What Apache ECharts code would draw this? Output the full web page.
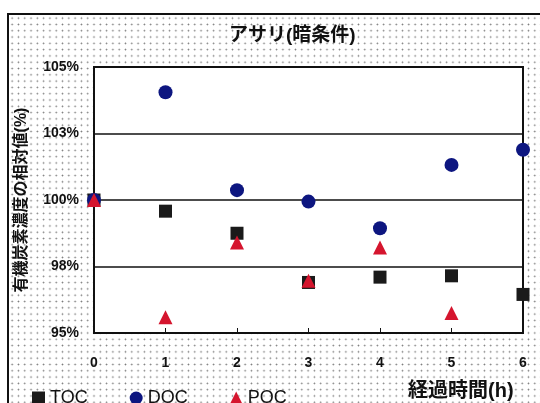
<!DOCTYPE html>
<html>
<head>
<meta charset="utf-8">
<script src="https://cdn.jsdelivr.net/npm/echarts@6/dist/echarts.min.js"></script>
<style>
html,body{margin:0;padding:0;background:#fff;}
#frame{position:absolute;left:7px;top:13px;width:540px;height:400px;border-left:2px solid #111;border-top:2px solid #111;
background-color:#fff;background-image:radial-gradient(circle,#777 0.6px,rgba(255,255,255,0) 1.1px);background-size:6.3px 6.3px;}
#chart{position:absolute;left:0;top:0;width:540px;height:403px;}
</style>
</head>
<body>
<div id="frame"></div>
<div id="chart"></div>
<script>
var titleText = 'アサリ(暗条件)';
var yAxisTitle = '有機炭素濃度の相対値(%)';
var xAxisTitle = '経過時間(h)';
var hours = [0, 1, 2, 3, 4, 5, 6];
var yTickValues = [95, 97.5, 100, 102.5, 105];
var yTickLabels = ['95%', '98%', '100%', '103%', '105%'];
var seriesNames = ['TOC', 'DOC', 'POC'];
var tocValues = [100, 99.58, 98.75, 96.9, 97.1, 97.15, 96.45];
var docValues = [100, 104.05, 100.37, 99.94, 98.94, 101.32, 101.89];
var pocValues = [100, 95.59, 98.4, 96.96, 98.21, 95.75, null];

function pairs(vals) {
  var out = [];
  for (var i = 0; i < hours.length; i++) {
    if (vals[i] !== null) out.push([hours[i], vals[i]]);
  }
  return out;
}

var chart = echarts.init(document.getElementById('chart'), null, {renderer: 'canvas'});
var font = '"Liberation Sans", Arial, "Noto Sans CJK JP", sans-serif';
chart.setOption({
  backgroundColor: 'transparent',
  animation: false,
  textStyle: {fontFamily: font},
  title: {
    text: titleText, left: 224, top: 21,
    textStyle: {fontSize: 19, fontWeight: 'bold', color: '#111', fontFamily: font}
  },
  grid: {left: 94, right: 17, top: 67, bottom: 70, show: true, borderColor: '#111', borderWidth: 2, backgroundColor: '#fff'},
  legend: {
    left: 27, top: 384, itemWidth: 13, itemHeight: 13, itemGap: 42,
    textStyle: {fontSize: 18, color: '#111', fontFamily: font},
    data: [
      {name: seriesNames[0], icon: 'rect'},
      {name: seriesNames[1], icon: 'circle'},
      {name: seriesNames[2], icon: 'triangle'}
    ]
  },
  xAxis: {
    type: 'value', min: 0, max: 6, interval: 1,
    axisLine: {show: false},
    axisTick: {show: true, inside: true, length: 5, lineStyle: {color: '#111', width: 1}},
    splitLine: {show: false},
    axisLabel: {margin: 23, fontSize: 14, fontWeight: 'bold', color: '#111'}
  },
  yAxis: {
    type: 'value', min: 95, max: 105, interval: 2.5,
    name: yAxisTitle, nameLocation: 'middle', nameGap: 64, nameRotate: 90,
    nameTextStyle: {fontSize: 16, fontWeight: 'bold', color: '#111', fontFamily: font},
    axisLine: {show: false},
    axisTick: {show: false},
    splitLine: {show: true, lineStyle: {color: '#111', width: 1.5}},
    axisLabel: {
      margin: 15, fontSize: 14, fontWeight: 'bold', color: '#111',
      formatter: function (v) {
        var i = yTickValues.indexOf(v);
        return i >= 0 ? yTickLabels[i] : '';
      }
    }
  },
  graphic: [{
    type: 'text', left: 408, top: 381,
    style: {text: xAxisTitle, fontSize: 20, fontWeight: 'bold', fill: '#111', fontFamily: font}
  }],
  series: [
    {name: seriesNames[0], type: 'scatter', symbol: 'rect', symbolSize: 13, itemStyle: {color: '#1a1a1a', opacity: 1}, data: pairs(tocValues), z: 3},
    {name: seriesNames[1], type: 'scatter', symbol: 'circle', symbolSize: 14, itemStyle: {color: '#0d1680', opacity: 1}, data: pairs(docValues), z: 4},
    {name: seriesNames[2], type: 'scatter', symbol: 'triangle', symbolSize: 14, itemStyle: {color: '#d5152e', opacity: 1}, data: pairs(pocValues), z: 5}
  ]
});
</script>
</body>
</html>
